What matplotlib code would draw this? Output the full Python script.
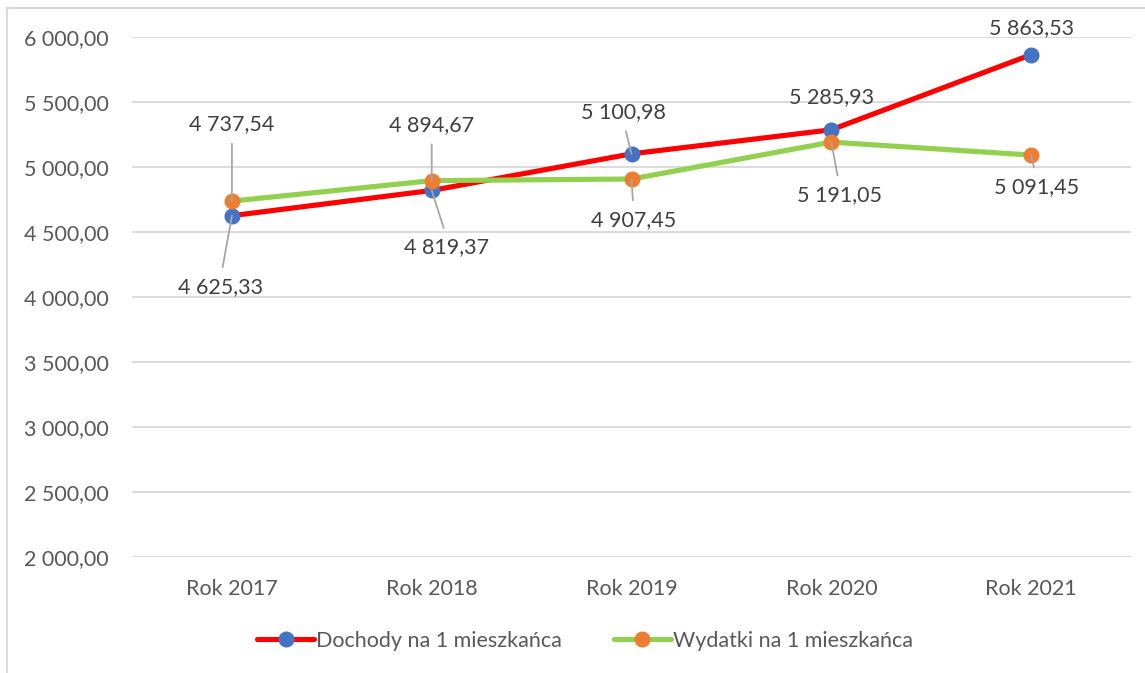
import matplotlib.pyplot as plt
from matplotlib.lines import Line2D

plt.rcParams['font.family'] = ['Lato', 'DejaVu Sans']

years = ['Rok 2017', 'Rok 2018', 'Rok 2019', 'Rok 2020', 'Rok 2021']
dochody = [4625.33, 4819.37, 5100.98, 5285.93, 5863.53]
wydatki = [4737.54, 4894.67, 4907.45, 5191.05, 5091.45]
y_ticks = [2000, 2500, 3000, 3500, 4000, 4500, 5000, 5500, 6000]


def pl(v):
    # polish number format: "4 625,33"
    return f"{v:,.2f}".replace(',', ' ').replace('.', ',')


fig = plt.figure(figsize=(11.45, 6.73), dpi=100)
ax = fig.add_axes([0.1153, 0.1724, 0.8725, 0.7727])

x = list(range(len(years)))
ax.plot(x, dochody, color='#FF0000', lw=3.7, marker='o', ms=10.5,
        mfc='#4472C4', mec='#4472C4', solid_capstyle='round', zorder=3,
        label='Dochody na 1 mieszkańca')
ax.plot(x, wydatki, color='#92D050', lw=3.7, marker='o', ms=10.5,
        mfc='#ED7D31', mec='#ED7D31', solid_capstyle='round', zorder=4,
        label='Wydatki na 1 mieszkańca')

# data labels: offset in pixels, leader line on/off, where the leader leaves the label
doch_off = [(-11, -71), (15, -57), (-8, 42), (0, 33), (0, 27)]
doch_lead = [True, True, True, False, False]
doch_rel = [(0.5, 1), (0.5, 1), (0.5, 0), None, None]
wyd_off = [(0, 77), (0, 56), (2, -41), (8, -53), (5, -32)]
wyd_lead = [True, True, True, True, True]
wyd_rel = [(0.5, 0), (0.5, 0), (0.5, 1), (0.5, 1), (0.5, 1)]

for vals, offs, leads, rels in [(dochody, doch_off, doch_lead, doch_rel),
                                (wydatki, wyd_off, wyd_lead, wyd_rel)]:
    for i, v in enumerate(vals):
        arrow = None
        if leads[i]:
            arrow = dict(arrowstyle='-', color='#A6A6A6', lw=1.3,
                         shrinkA=5, shrinkB=0, relpos=rels[i])
        ax.annotate(pl(v), (i, v), xytext=offs[i], textcoords='offset pixels',
                    ha='center', va='center', fontsize=15.5, color='#404040',
                    arrowprops=arrow, zorder=5)

ax.set_xlim(-0.5, 4.5)
ax.set_ylim(2000, 6000)
ax.set_yticks(y_ticks)
ax.set_yticklabels([pl(t) for t in y_ticks])
ax.set_xticks(x)
ax.set_xticklabels(years)
ax.tick_params(axis='y', length=0, pad=17, labelsize=15.5, labelcolor='#595959')
ax.tick_params(axis='x', length=0, pad=16, labelsize=15.5, labelcolor='#595959')
ax.grid(axis='y', color='#D9D9D9', lw=1.3)
ax.set_axisbelow(True)
for s in ax.spines.values():
    s.set_visible(False)

fig.legend(loc='center', bbox_to_anchor=(585 / 1145, 1 - 641 / 673), ncol=2,
           frameon=False, fontsize=15.5, labelcolor='#595959',
           handlelength=2.65, handletextpad=0.1, columnspacing=2.4)

# chart area border
fig.add_artist(Line2D([7 / 1145, 7 / 1145], [0, 1 - 8 / 673], color='#D9D9D9', lw=1.5))
fig.add_artist(Line2D([7 / 1145, 1], [1 - 8 / 673, 1 - 8 / 673], color='#D9D9D9', lw=1.5))

fig.savefig('out.png', dpi=100)
